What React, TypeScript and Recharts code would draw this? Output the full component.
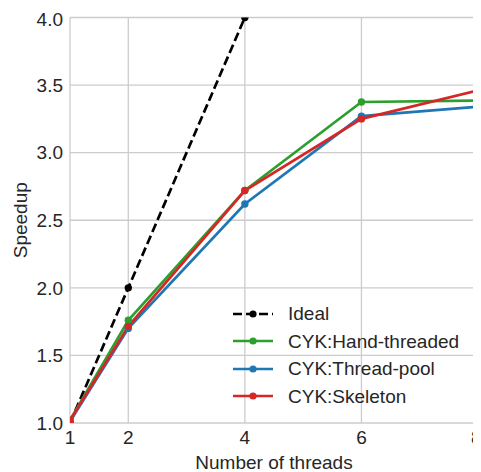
import React from 'react';
import { LineChart, Line, XAxis, YAxis, CartesianGrid } from 'recharts';

const threads = [1, 2, 4, 6, 8];
const ideal = [1, 2, 4, 6, 8];
const handThreaded = [1.02, 1.76, 2.72, 3.375, 3.385];
const threadPool = [1.01, 1.7, 2.62, 3.27, 3.34];
const skeleton = [1.02, 1.715, 2.72, 3.25, 3.46];
const xTicks = [1, 2, 4, 6, 8];
const yTicks = [1.0, 1.5, 2.0, 2.5, 3.0, 3.5, 4.0];

const seriesNames = ['Ideal', 'CYK:Hand-threaded', 'CYK:Thread-pool', 'CYK:Skeleton'];
const seriesColors = ['#000000', '#2ca02c', '#1f77b4', '#d62728'];

const data = threads.map((t, i) => ({
  t,
  ideal: ideal[i],
  hand: handThreaded[i],
  pool: threadPool[i],
  skel: skeleton[i],
}));

const FONT = '"Liberation Sans", Arial, sans-serif';
const TEXT = '#262626';
const FS = 19;

const LegendBox = () => (
  <div style={{ position: 'absolute', left: 225, top: 292, fontFamily: FONT, fontSize: FS, color: TEXT }}>
    {seriesNames.map((n, i) => (
      <div key={n} style={{ height: 27.5, display: 'flex', alignItems: 'center' }}>
        <svg width={55} height={12} style={{ display: 'block' }}>
          <line
            x1={0}
            y1={6}
            x2={40}
            y2={6}
            stroke={seriesColors[i]}
            strokeWidth={2.7}
            strokeDasharray={i === 0 ? '9 4' : undefined}
          />
          <circle cx={20} cy={6} r={3.6} fill={seriesColors[i]} />
        </svg>
        <span style={{ lineHeight: 1 }}>{n}</span>
      </div>
    ))}
  </div>
);

export default function App() {
  const common = { isAnimationActive: false, strokeWidth: 2.7, activeDot: false as const };
  return (
    <div style={{ position: 'relative', width: 473, height: 464 }}>
      <LineChart width={473} height={464} data={data} margin={{ top: 9.5, right: 3, left: 0, bottom: 0 }}>
        <CartesianGrid stroke="#cccccc" strokeWidth={1.3} />
        <XAxis
          dataKey="t"
          type="number"
          domain={[1, 8]}
          ticks={xTicks}
          allowDataOverflow
          axisLine={false}
          tickLine={false}
          tickSize={0}
          tickMargin={8}
          height={49}
          tick={{ fill: TEXT, fontSize: FS, fontFamily: FONT }}
          label={{ value: 'Number of threads', position: 'insideBottom', offset: 3, fill: TEXT, fontSize: FS, fontFamily: FONT }}
        />
        <YAxis
          type="number"
          domain={[1, 4]}
          ticks={yTicks}
          allowDataOverflow
          axisLine={false}
          tickLine={false}
          tickSize={0}
          tickMargin={7}
          width={62}
          tickFormatter={(v: number) => v.toFixed(1)}
          tick={{ fill: TEXT, fontSize: FS, fontFamily: FONT }}
          label={{ value: 'Speedup', angle: -90, position: 'insideLeft', offset: 12, fill: TEXT, fontSize: FS, fontFamily: FONT, style: { textAnchor: 'middle' } }}
        />
        <Line dataKey="ideal" stroke="#000000" strokeDasharray="9 4" dot={{ r: 3.7, fill: '#000000', stroke: '#000000', strokeWidth: 0 }} {...common} />
        <Line dataKey="hand" stroke="#2ca02c" dot={{ r: 3.7, fill: '#2ca02c', stroke: '#2ca02c', strokeWidth: 0 }} {...common} />
        <Line dataKey="pool" stroke="#1f77b4" dot={{ r: 3.7, fill: '#1f77b4', stroke: '#1f77b4', strokeWidth: 0 }} {...common} />
        <Line dataKey="skel" stroke="#d62728" dot={{ r: 3.7, fill: '#d62728', stroke: '#d62728', strokeWidth: 0 }} {...common} />
      </LineChart>
      <LegendBox />
    </div>
  );
}
